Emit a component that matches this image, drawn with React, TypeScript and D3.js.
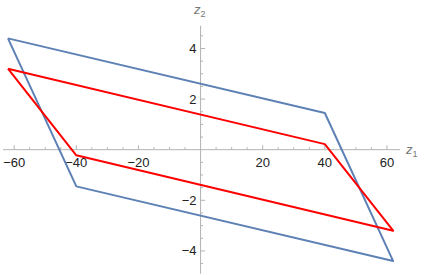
import { useEffect, useRef } from 'react'
import * as d3 from 'd3'

// polygon corners (z1, z2)
const bluePts: [number, number][] = [[-62, 4.4], [40, 1.45], [62, -4.4], [-40, -1.45]]
const redPts: [number, number][] = [[-62, 3.2], [40, 0.22], [62, -3.2], [-40, -0.22]]
const xTicks = [-60, -40, -20, 20, 40, 60]
const yTicks = [-4, -2, 2, 4]

const W = 425
const H = 275

const App = () => {
  const ref = useRef<SVGSVGElement>(null)

  useEffect(() => {
    const svg = d3.select(ref.current)
    svg.selectAll('*').remove()

    const x = d3.scaleLinear().domain([-63.6, 64.2]).range([3, 400])
    const y = d3.scaleLinear().domain([-4.9, 4.9]).range([273.7, 25.7])

    const axisCol = '#b3b3b3'
    const g = svg.append('g')

    // axes lines
    g.append('line').attr('x1', x(-63.6)).attr('x2', x(64.2))
      .attr('y1', y(0)).attr('y2', y(0)).attr('stroke', axisCol)
    g.append('line').attr('x1', x(0)).attr('x2', x(0))
      .attr('y1', y(4.9)).attr('y2', y(-4.9)).attr('stroke', axisCol)

    // x ticks (minor every 5)
    const xMinor = d3.range(-60, 61, 5).filter(v => v !== 0)
    g.selectAll('.xt').data(xMinor).enter().append('line')
      .attr('x1', d => x(d)).attr('x2', d => x(d))
      .attr('y1', y(0)).attr('y2', d => y(0) - (d % 20 === 0 ? 4.5 : 2.5))
      .attr('stroke', axisCol)
    const yMinor = d3.range(-4.5, 4.6, 0.5).filter(v => v !== 0)
    g.selectAll('.yt').data(yMinor).enter().append('line')
      .attr('y1', d => y(d)).attr('y2', d => y(d))
      .attr('x1', x(0)).attr('x2', d => x(0) + (d % 2 === 0 ? 4.5 : 2.5))
      .attr('stroke', axisCol)

    const fmt = (v: number) => (v < 0 ? '\u2212' + Math.abs(v) : String(v))
    g.selectAll('.xl').data(xTicks).enter().append('text')
      .attr('x', d => x(d)).attr('y', y(0) + 17)
      .attr('text-anchor', 'middle')
      .attr('font-family', 'Liberation Sans, Arial, sans-serif')
      .attr('font-size', 13).attr('fill', '#222')
      .text(fmt)
    g.selectAll('.yl').data(yTicks).enter().append('text')
      .attr('x', x(0) - 4).attr('y', d => y(d) + 4.5)
      .attr('text-anchor', 'end')
      .attr('font-family', 'Liberation Sans, Arial, sans-serif')
      .attr('font-size', 13).attr('fill', '#222')
      .text(fmt)

    // axis labels
    const lab = (px: number, py: number, sub: string) => {
      const t = g.append('text').attr('x', px).attr('y', py)
        .attr('font-family', 'Liberation Sans, Arial, sans-serif')
        .attr('fill', '#777').attr('font-size', 13)
      t.append('tspan').attr('font-style', 'italic').text('z')
      t.append('tspan').attr('font-size', 9).attr('dy', 3).text(sub)
    }
    lab(406, y(0) + 4, '1')
    lab(194, 14, '2')

    const line = d3.line<[number, number]>().x(d => x(d[0])).y(d => y(d[1]))
    svg.append('path').datum([...bluePts, bluePts[0]])
      .attr('d', line).attr('fill', 'none')
      .attr('stroke', '#5e81b5').attr('stroke-width', 2).attr('stroke-linejoin', 'round')
    svg.append('path').datum([...redPts, redPts[0]])
      .attr('d', line).attr('fill', 'none')
      .attr('stroke', '#ff0000').attr('stroke-width', 2).attr('stroke-linejoin', 'round')
  }, [])

  return (
    <svg ref={ref} width={W} height={H}
      style={{ position: 'absolute', left: 0, top: 0, background: '#fff' }} />
  )
}

export default App
